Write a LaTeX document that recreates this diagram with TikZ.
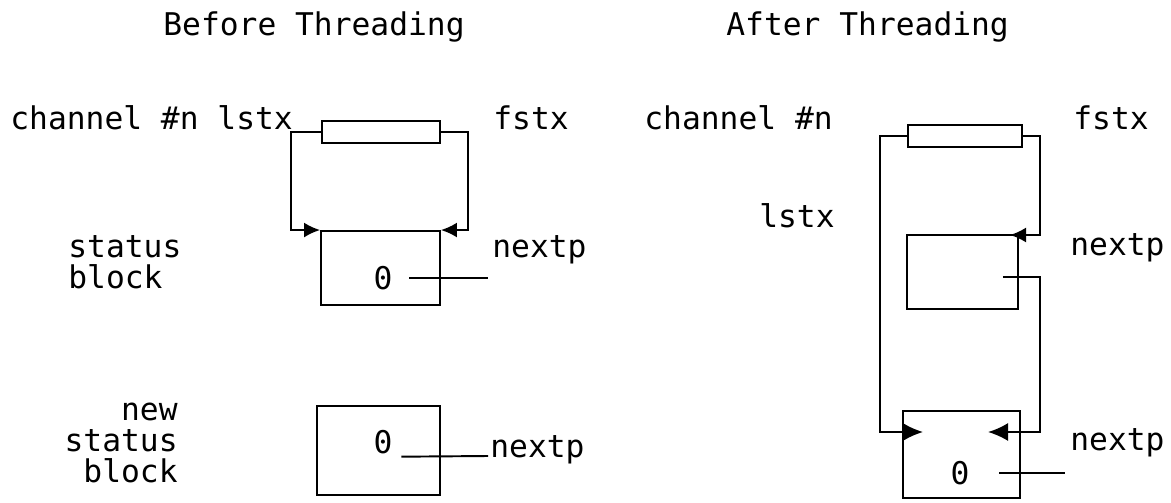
\documentclass[tikz,border=0pt]{standalone}
\usepackage{fontspec}
\setmonofont{DejaVu Sans Mono}
\usetikzlibrary{arrows.meta}

\begin{document}
\begin{tikzpicture}[
    every node/.style={font=\ttfamily\fontsize{17.8}{17.6}\selectfont, inner sep=0pt},
    word/.style={anchor=base west},
    cell/.style={draw, line width=1.1pt},
    wire/.style={line width=1.1pt},
    ptr/.style={line width=1.1pt, -{Latex[length=3.2mm, width=3mm]}},
    bigptr/.style={line width=1.1pt, -{Latex[length=4mm, width=3.6mm]}}
]
    \useasboundingbox (0,0) rectangle (23.42,10.04);

    % titles
    \node[word] (tbefore) at (3.26,9.32) {Before Threading};
    \node[word] (tafter) at (14.52,9.32) {After Threading};

    % ---- before threading ----
    \node[word] (chanA) at (0.20,7.44) {channel \#n lstx};
    \node[word] (fstA) at (9.86,7.44) {fstx};
    \node[cell, minimum width=2.36cm, minimum height=0.44cm] (headA) at (7.62,7.40) {};

    % status block (base sits on the last line)
    \node[word, align=left] (sbA) at (1.36,4.28) {status\\block};
    \node[cell, minimum width=2.38cm, minimum height=1.48cm] (blkA) at (7.61,4.68) {};
    \node[inner xsep=3.3mm] (zeroA) at (7.66,4.48) {0};
    \node[word] (nextA) at (9.84,4.90) {nextp};
    \coordinate (nullA) at (9.76,4.48);
    \draw[wire] (zeroA.east) -- (nullA);

    % lstx and fstx pointers
    \coordinate (lbendA) at (5.82,7.40);
    \coordinate (rbendA) at (9.36,7.40);
    \draw[ptr] (headA.west) -- (lbendA) |- (blkA.north west);
    \draw[ptr] (headA.east) -- (rbendA) |- (blkA.north east);

    % new status block
    \node[anchor=base east, align=right] (nsbA) at (3.56,0.40) {new\\status\\block};
    \node[cell, minimum width=2.46cm, minimum height=1.78cm] (newA) at (7.57,1.03) {};
    \node (zeroB) at (7.66,1.20) {0};
    \node[word] (nextB) at (9.80,0.90) {nextp};
    \coordinate (nullB) at (9.76,0.92);
    \draw[wire] ([xshift=1.7mm, yshift=-0.5mm]zeroB.south east) -- (nullB);

    % ---- after threading ----
    \node[word] (chanB) at (12.88,7.44) {channel \#n};
    \node[word] (fstB) at (21.46,7.44) {fstx};
    \node[anchor=base east] (lstB) at (16.70,5.50) {lstx};
    \node[cell, minimum width=2.28cm, minimum height=0.44cm] (headB) at (19.30,7.32) {};

    % old block, now first
    \node[cell, minimum width=2.22cm, minimum height=1.48cm] (blkB) at (19.25,4.60) {};
    \node[word] (nextC) at (21.40,4.94) {nextp};

    % new block, now last
    \node[cell, minimum width=2.34cm, minimum height=1.74cm] (newB) at (19.23,0.95) {};
    \node (zeroC) at (19.20,0.58) {0};
    \node[word] (nextD) at (21.40,1.04) {nextp};
    \coordinate (nullC) at (21.30,0.58);
    \draw[wire] ([xshift=5.9mm]zeroC.east) -- (nullC);

    % pointers
    \coordinate (lbendB) at (17.60,7.32);
    \coordinate (rbendB) at (20.80,7.32);
    \coordinate (tipT) at (20.20,5.34);
    \coordinate (tipL) at (18.46,1.40);
    \coordinate (tipR) at (19.76,1.40);
    \coordinate (linkB) at ([xshift=-3.2mm, yshift=-1mm]blkB.east);
    \draw[ptr] (headB.east) -- (rbendB) |- (tipT);
    \draw[bigptr] (headB.west) -- (lbendB) |- (tipL);
    \draw[bigptr] (linkB) -- (rbendB |- linkB) |- (tipR);

\end{tikzpicture}
\end{document}
